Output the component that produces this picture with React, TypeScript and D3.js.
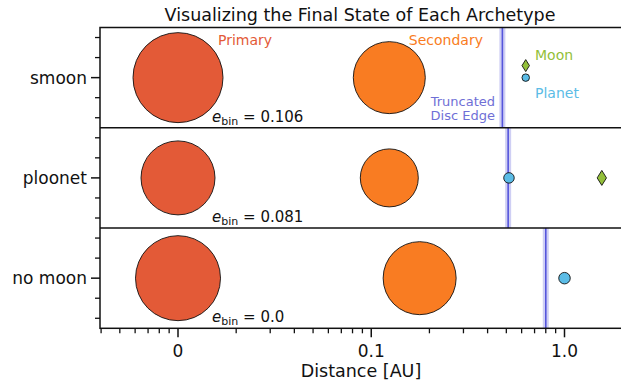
import * as d3 from "d3";

// archetype rows, top to bottom
const archetypes = ["smoon", "ploonet", "no moon"];
const eBinLabels = ["0.106", "0.081", "0.0"];

// positions in AU (the "0" tick sits on the log axis at 0.01)
const primaryPos = [0.01, 0.01, 0.01];
const secondaryPos = [0.124, 0.124, 0.178];
const discEdgePos = [0.477, 0.511, 0.8];
const planetPos = [0.63, 0.516, 1.0];
const moonPos = [0.63, 1.56, null];
const moonOffset = [0.24, 0, null];

// relative body sizes
const primarySize = [0.9, 0.74, 0.85];
const secondarySize = [0.72, 0.58, 0.73];
const planetSize = [0.075, 0.105, 0.115];
const moonSize = [0.12, 0.15, null];

const xTickValues = [0.01, 0.1, 1];
const xTickLabels = ["0", "0.1", "1.0"];
const yMinorTicks = [-0.8, -0.4, 0.4, 0.8];

const W = 621;
const H = 382;
const FONT = "DejaVu Sans, sans-serif";

const colors = {
  primary: "#e35a37",
  secondary: "#f97c22",
  planet: "#5bbce6",
  moon: "#93bf3a",
  edge: "#5555dc",
  edgeBand: "#cfcff4",
  edgeText: "#6f6fd6",
};

const App = () => {
  const x = d3.scaleLog().domain([0.01, 1]).range([178, 564.5]);
  const left = 100;
  const right = 640;
  const top = 27.5;
  const bottom = 328.3;

  const row = d3.scaleBand().domain(archetypes).range([top, bottom]);
  const r = d3.scaleLinear().domain([0, 1]).range([0, 50]);

  // minor ticks of the log axis inside the visible range
  const [d0, d1] = [x.invert(left), x.invert(W)];
  const minor: number[] = [];
  for (let k = -3; k <= 0; k++) {
    for (let m = 2; m <= 9; m++) {
      const v = m * Math.pow(10, k);
      if (v >= d0 && v <= d1) minor.push(v);
    }
  }

  const diamond = (cx: number, cy: number, h: number) => {
    const w = h * 0.62;
    return `M${cx},${cy - h}L${cx + w},${cy}L${cx},${cy + h}L${cx - w},${cy}Z`;
  };

  return (
    <svg width={W} height={H} style={{ position: "absolute", left: 0, top: 0, background: "#fff" }} fontFamily={FONT}>
      <text x={360} y={21} textAnchor="middle" fontSize={17.5} fill="#111">
        Visualizing the Final State of Each Archetype
      </text>

      {archetypes.map((name, i) => {
        const y0 = row(name)!;
        const y = d3.scaleLinear().domain([-1, 1]).range([y0 + row.bandwidth(), y0]);
        const cy = y(0);
        return (
          <g key={name}>
            {/* truncated disc edge */}
            <line x1={x(discEdgePos[i])} x2={x(discEdgePos[i])} y1={y0} y2={y0 + row.bandwidth()}
              stroke={colors.edgeBand} strokeWidth={6} />
            <line x1={x(discEdgePos[i])} x2={x(discEdgePos[i])} y1={y0} y2={y0 + row.bandwidth()}
              stroke={colors.edge} strokeWidth={1.6} />

            <circle cx={x(primaryPos[i])} cy={cy} r={r(primarySize[i])} fill={colors.primary} stroke="#111" strokeWidth={0.9} />
            <circle cx={x(secondaryPos[i])} cy={cy} r={r(secondarySize[i])} fill={colors.secondary} stroke="#111" strokeWidth={0.9} />
            <circle cx={x(planetPos[i])} cy={cy} r={r(planetSize[i])} fill={colors.planet} stroke="#111" strokeWidth={0.9} />
            {moonPos[i] !== null && (
              <path d={diamond(x(moonPos[i] as number), y(moonOffset[i] as number), r(moonSize[i] as number))}
                fill={colors.moon} stroke="#111" strokeWidth={0.9} />
            )}

            <text x={x(0.015)} y={y0 + row.bandwidth() - 6} fontSize={15} fill="#111">
              <tspan fontStyle="italic">e</tspan>
              <tspan fontSize={11} dy={3}>bin</tspan>
              <tspan dy={-3}> = {eBinLabels[i]}</tspan>
            </text>

            {/* y ticks */}
            <line x1={left - 9} x2={left} y1={cy} y2={cy} stroke="#111" strokeWidth={1.5} />
            {yMinorTicks.map((t) => (
              <line key={t} x1={left - 5} x2={left} y1={y(t)} y2={y(t)} stroke="#111" strokeWidth={1.3} />
            ))}
            <text x={left - 13} y={cy + 6} textAnchor="end" fontSize={17} fill="#111">{name}</text>

            {i > 0 && <line x1={left} x2={right} y1={y0} y2={y0} stroke="#111" strokeWidth={1.5} />}
          </g>
        );
      })}

      {/* annotations in the top panel */}
      <text x={218} y={45} fontSize={14} fill={colors.primary}>Primary</text>
      <text x={483} y={45} fontSize={14} fill={colors.secondary} textAnchor="end">Secondary</text>
      <text x={535} y={60} fontSize={14} fill={colors.moon}>Moon</text>
      <text x={535} y={98} fontSize={14} fill={colors.planet}>Planet</text>
      <text x={495} y={106} fontSize={13} fill={colors.edgeText} textAnchor="end">Truncated</text>
      <text x={495} y={120} fontSize={13} fill={colors.edgeText} textAnchor="end">Disc Edge</text>

      {/* frame */}
      <rect x={left} y={top} width={right - left} height={bottom - top} fill="none" stroke="#111" strokeWidth={1.5} />

      {/* x axis */}
      {minor.map((v) => (
        <line key={v} x1={x(v)} x2={x(v)} y1={bottom} y2={bottom + 5} stroke="#111" strokeWidth={1.3} />
      ))}
      {xTickValues.map((v, i) => (
        <g key={v}>
          <line x1={x(v)} x2={x(v)} y1={bottom} y2={bottom + 9} stroke="#111" strokeWidth={1.5} />
          <text x={x(v)} y={357} textAnchor="middle" fontSize={17} fill="#111">{xTickLabels[i]}</text>
        </g>
      ))}
      <text x={361} y={377} textAnchor="middle" fontSize={17.5} fill="#111">Distance [AU]</text>
    </svg>
  );
};

export default App;
